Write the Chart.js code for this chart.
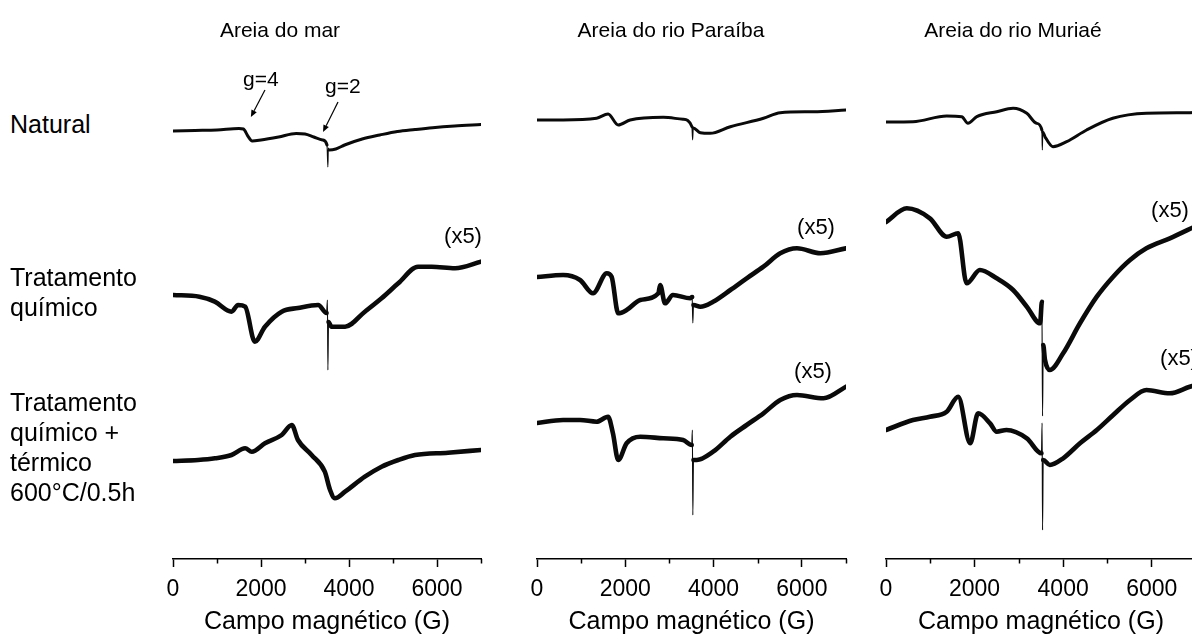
<!DOCTYPE html>
<html><head><meta charset="utf-8">
<script src="https://cdn.jsdelivr.net/npm/chart.js@4.4.1/dist/chart.umd.min.js"></script>
<style>
html,body{margin:0;padding:0;background:#fff;}
body{width:1192px;height:639px;overflow:hidden;position:relative;font-family:"Liberation Sans",Arial,sans-serif;color:#000;}
.panel{position:absolute;top:0;height:639px;}
.lbl{position:absolute;white-space:nowrap;}
.ctr{transform:translateX(-50%);text-align:center;}
</style></head><body>
<script>
// ---------- data (EPR spectra, field in gauss, signal in arbitrary units) ----------
const columnTitles = ['Areia do mar', 'Areia do rio Paraíba', 'Areia do rio Muriaé'];
const rowLabels = ['Natural', 'Tratamento<br>químico', 'Tratamento<br>químico +<br>térmico<br>600°C/0.5h'];
const fieldTickLabels = [0, 2000, 4000, 6000];
const fieldMinorTicks = [1000, 3000, 5000, 7000];

const marNaturalField  = [0,500,1000,1500,1600,1700,1800,2000,2400,2800,3000,3200,3400,3500,3520,3530,3550,3700,3900,4300,4700,5100,5500,5900,6400,7000];
const marNaturalSignal = [0,0.5,1,2.5,2,-5,-10,-9,-6,-2.5,-3,-6,-9,-14,-36,-17,-19,-18,-14,-8,-4,-0.5,1.5,3.3,5,6.5];
const marChemField  = [0,600,950,1330,1480,1640,1860,2090,2470,2840,3300,3490,3510,3520,3535,3600,3910,4360,4740,5120,5570,5880,6410,7000];
const marChemSignal = [0,-1.7,-6.7,-16.7,-10,-11.7,-46.7,-31.7,-16.7,-13,-10,-18,-5,-75,-27,-31.7,-31.7,-16.7,-3.3,11.7,28.3,28.3,26.7,33.3];
const marThermField  = [0,570,955,1330,1640,1790,2090,2470,2700,2840,3150,3450,3570,3680,3910,4360,4740,5120,5500,6250,7000];
const marThermSignal = [0,1,2.7,6,12.7,9.3,17.7,26,36,21,6,-10.7,-29,-37.3,-30.7,-15.7,-5.7,1,6,8.3,11];

const parNaturalField  = [0,590,1350,1610,1840,2110,2860,3310,3510,3525,3540,3700,3920,4380,5130,5510,6260,7000];
const parNaturalSignal = [0,0,1.7,6,-5,0,2.7,0.7,-6.7,-20,-8,-12.7,-13.3,-6.7,1.7,7.3,8.3,10];
const parChemField  = [0,590,975,1270,1580,1690,1840,2030,2340,2750,2790,2900,3080,3470,3515,3530,3545,3700,3990,4380,4750,5130,5510,5890,6420,7000];
const parChemSignal = [0,2,-3,-16.3,3.7,0.3,-36.3,-33,-23,-16.3,-8,-26.3,-18,-21.3,-20,-46,-28,-29.7,-24.7,-13,-1.3,10.3,23.7,28.7,23.7,28.7];
const parThermField  = [0,590,975,1350,1610,1720,1840,2030,2340,2860,3310,3505,3520,3530,3545,3620,3990,4380,4750,5130,5510,5890,6490,7000];
const parThermSignal = [0,3,3,1.3,6.3,-10.3,-37,-20.3,-13.7,-15.3,-17,-22,-7,-92,-37,-37,-28.7,-13.7,-2,9.7,23,28,24.7,36.3];

const murNaturalField  = [0,610,1370,1710,1850,2050,2500,2870,3180,3400,3520,3530,3540,3590,3770,4080,4530,5120,5880,6860,7000];
const murNaturalSignal = [0,0.3,6,5.3,-1.3,5.3,10.3,13.7,8.7,-1.3,-8,-28,-10,-14.7,-24.7,-19.7,-8,3.7,8.7,9.3,9.5];
const murChemField  = [0,470,990,1370,1630,1820,2120,2500,2870,3180,3480,3520,3535,3550,3590,3700,4000,4380,4760,5130,5510,5880,6410,7000];
const murChemSignal = [0,13.7,3.7,-14.7,-11.3,-61.3,-48,-56.3,-68,-84.7,-101.3,-79.7,-194,-123,-138,-148,-131.3,-101.3,-74.7,-54.7,-38,-26.3,-16.3,-4];
const murThermField  = [0,610,990,1370,1630,1900,2080,2350,2500,2720,3180,3510,3525,3535,3550,3700,4000,4380,4760,5130,5510,5880,6410,6860,7000];
const murThermSignal = [0,10,13.3,18.3,33.3,-13.3,16.7,6.7,-1.7,0,-8.3,-23.3,7,-100,-30,-35,-28.3,-13.3,0,15,30,40,36.7,43.3,45];

// vertical stacking offsets of the three rows (arbitrary units)
const marOffsets = [428, 264, 98];
const parOffsets = [439, 282, 136];
const murOffsets = [437, 337, 129];

// ---------- layout / style ----------
const panelLeft = [173, 537, 886];
const panelWidth = [308, 309, 310];
const PAD = 40;
const AXIS_Y = 559;
const rowWidths = [3, 4.6, 4.6];
Chart.defaults.font.family = "'Liberation Sans', Arial, sans-serif";
Chart.defaults.color = '#000';

const columns = [
  {fields:[marNaturalField, marChemField, marThermField], signals:[marNaturalSignal, marChemSignal, marThermSignal], offsets: marOffsets,
   arrows:[{tip:[1770, 442], tail:[2090, 469]}, {tip:[3410, 427], tail:[3750, 457]}]},
  {fields:[parNaturalField, parChemField, parThermField], signals:[parNaturalSignal, parChemSignal, parThermSignal], offsets: parOffsets, arrows:[]},
  {fields:[murNaturalField, murChemField, murThermField], signals:[murNaturalSignal, murChemSignal, murThermSignal], offsets: murOffsets, arrows:[]}
];

const extras = {
  id: 'extras',
  afterDraw(chart, args, opts) {
    const {ctx} = chart; const xs = chart.scales.x; const ys = chart.scales.y;
    ctx.save();
    ctx.strokeStyle = '#000'; ctx.lineWidth = 1.5;
    fieldMinorTicks.forEach(v => {
      const px = Math.round(xs.getPixelForValue(v)) + 0.5;
      ctx.beginPath(); ctx.moveTo(px, AXIS_Y); ctx.lineTo(px, AXIS_Y + 4.5); ctx.stroke();
    });
    ctx.lineWidth = 1.2; ctx.fillStyle = '#000';
    (opts.arrows || []).forEach(a => {
      const x1 = xs.getPixelForValue(a.tail[0]), y1 = ys.getPixelForValue(a.tail[1]);
      const x2 = xs.getPixelForValue(a.tip[0]), y2 = ys.getPixelForValue(a.tip[1]);
      const ang = Math.atan2(y2 - y1, x2 - x1);
      const L = 7, H = 3;
      const bx = x2 - L * Math.cos(ang), by = y2 - L * Math.sin(ang);
      ctx.beginPath(); ctx.moveTo(x1, y1); ctx.lineTo(bx, by); ctx.stroke();
      ctx.beginPath(); ctx.moveTo(x2, y2);
      ctx.lineTo(bx + H * Math.sin(ang), by - H * Math.cos(ang));
      ctx.lineTo(bx - H * Math.sin(ang), by + H * Math.cos(ang));
      ctx.closePath(); ctx.fill();
    });
    ctx.restore();
  }
};

columns.forEach((col, ci) => {
  const wrap = document.createElement('div');
  wrap.className = 'panel';
  const w = panelWidth[ci] + 2 * PAD;
  wrap.style.left = (panelLeft[ci] - PAD) + 'px';
  wrap.style.width = w + 'px';
  const cv = document.createElement('canvas');
  cv.width = w; cv.height = 639; cv.style.width = w + 'px'; cv.style.height = '639px';
  wrap.appendChild(cv); document.body.appendChild(wrap);

  const datasets = col.fields.map((f, ri) => ({
    data: f.map((x, i) => ({x: x, y: col.signals[ri][i] + col.offsets[ri]})),
    borderColor: '#0a0a0a', borderWidth: rowWidths[ri], pointRadius: 0, showLine: true,
    borderJoinStyle: 'round', borderCapStyle: 'round', cubicInterpolationMode: 'monotone',
    segment: { borderWidth: c => (c.p1.parsed.x - c.p0.parsed.x) < 25 ? 1.1 : undefined }
  }));

  new Chart(cv, {
    type: 'scatter',
    data: {datasets},
    plugins: [extras],
    options: {
      responsive: false, animation: false, devicePixelRatio: 1,
      layout: {padding: {left: PAD, right: PAD, top: 0, bottom: 0}},
      plugins: {legend: {display: false}, tooltip: {enabled: false}, extras: {arrows: col.arrows}},
      scales: {
        x: {
          type: 'linear', min: 0, max: 7000, position: 'bottom',
          afterFit: s => { s.height = 639 - AXIS_Y; },
          border: {display: true, color: '#000', width: 1.5},
          grid: {display: true, drawOnChartArea: false, drawTicks: true, tickLength: 8, tickWidth: 1.5,
                 tickColor: c => (c.tick && fieldTickLabels.includes(c.tick.value)) ? '#000' : 'rgba(0,0,0,0)'},
          ticks: {stepSize: 1000, autoSkip: false, maxRotation: 0, padding: 9, color: '#000', font: {size: 23},
                  callback: v => fieldTickLabels.includes(v) ? String(v) : ''},
          title: {display: true, text: 'Campo magnético (G)', color: '#000', font: {size: 25}, padding: {top: 0, bottom: 2}}
        },
        y: {display: false, min: 0, max: AXIS_Y}
      }
    }
  });
});

// ---------- text labels ----------
function addLabel(html, css, cls) {
  const d = document.createElement('div');
  d.className = 'lbl ' + (cls || '');
  d.innerHTML = html;
  Object.assign(d.style, css);
  document.body.appendChild(d);
}
const titleCenters = [280, 671, 1013];
columnTitles.forEach((t, i) => addLabel(t, {left: titleCenters[i] + 'px', top: '17px', fontSize: '21px', lineHeight: '26px'}, 'ctr'));
const rowTops = [109, 262, 387];
rowLabels.forEach((t, i) => addLabel(t, {left: '10px', top: rowTops[i] + 'px', fontSize: '25px', lineHeight: '30px'}));
[[463, 236], [816, 227], [813, 371], [1170, 210], [1179, 358]].forEach(p =>
  addLabel('(x5)', {left: p[0] + 'px', top: (p[1] - 13) + 'px', fontSize: '22px', lineHeight: '26px'}, 'ctr'));
addLabel('g=4', {left: '243px', top: '67px', fontSize: '21px', lineHeight: '24px'});
addLabel('g=2', {left: '325px', top: '74px', fontSize: '21px', lineHeight: '24px'});
</script>
</body></html>
